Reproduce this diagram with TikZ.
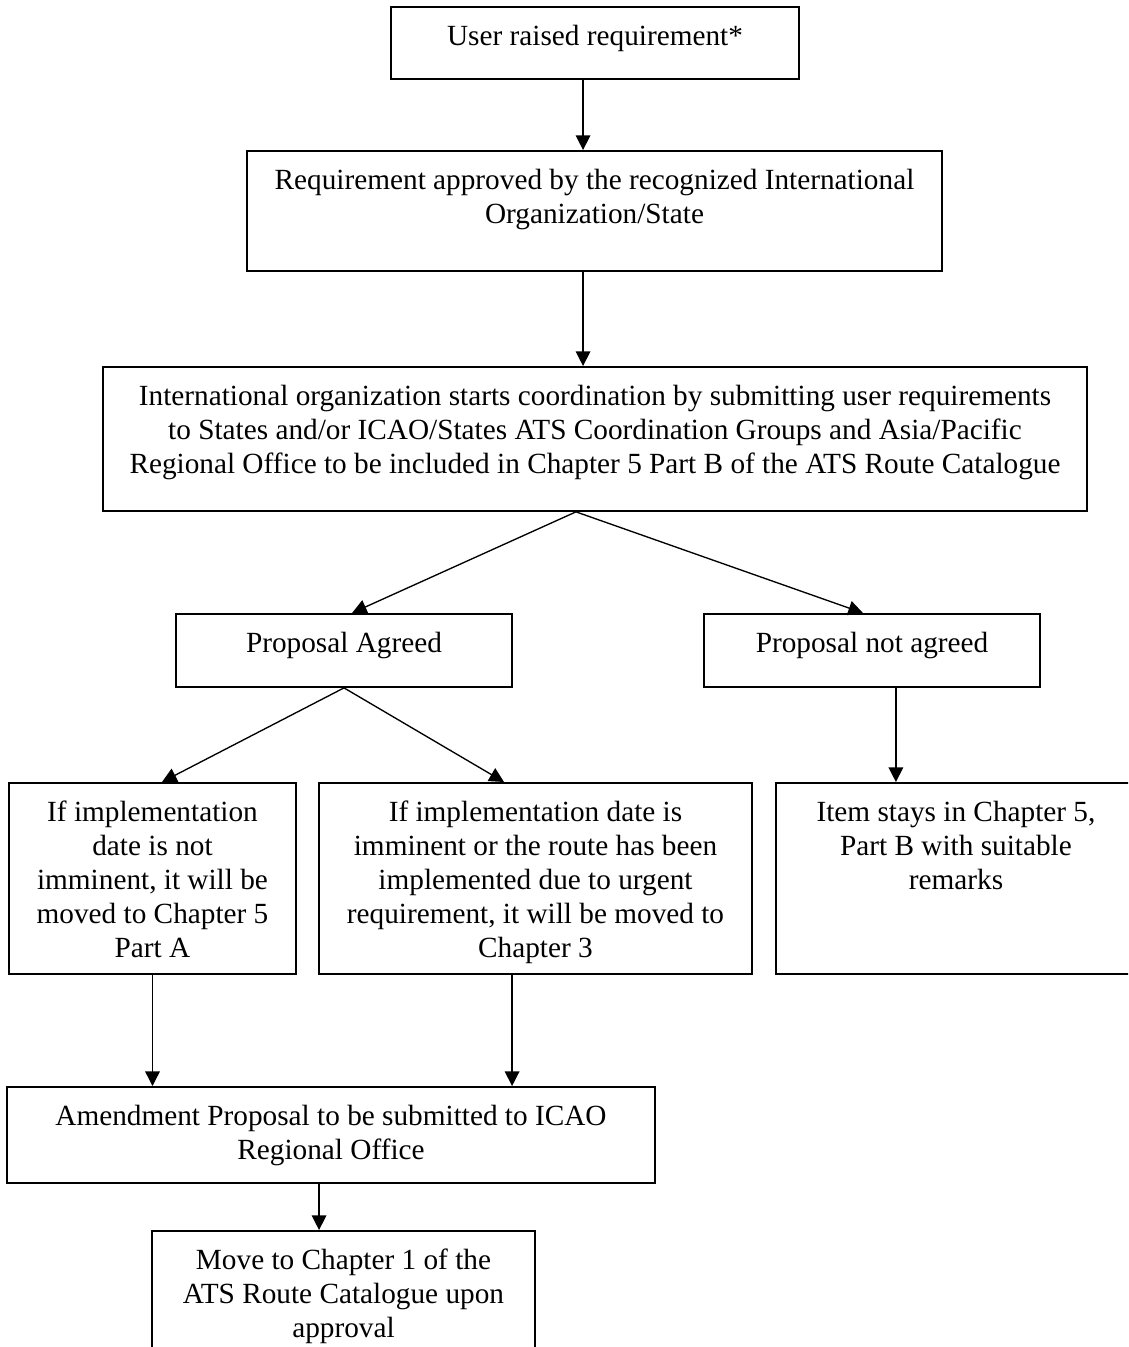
\documentclass[tikz,border=0pt]{standalone}
\usepackage{fontspec}
\setmainfont{Liberation Serif}
\usepackage{tikz}
\usetikzlibrary{arrows.meta, positioning}
\tikzstyle{flowbox} = [rectangle, draw, line width=0.8pt, inner sep=0pt, align=center, anchor=north, text height=15.8pt, font=\fontsize{12pt}{13.9pt}\selectfont, execute at begin node={\spaceskip=0.25em\relax}]
\tikzstyle{arrow} = [line width=0.55pt, -{Triangle[length=6pt, width=6pt]}]

\begin{document}
\begin{tikzpicture}[x=0.41pt, y=-0.41pt]
    \useasboundingbox (0, 0) rectangle (1128, 1347);
    \clip (0, 0) rectangle (1128, 1347);

    % Boxes
    \node[flowbox, text width=167.3pt, text depth=13.7pt] (raised) at (595, 6) {User raised requirement*};
    \node[flowbox, text width=285pt, text depth=33.4pt] (approved) at (594.5, 150) {Requirement approved by the recognized International\\Organization/State};
    \node[flowbox, text width=403.4pt, text depth=43.2pt] (coord) at (595, 366) {International organization starts coordination by submitting user requirements\\to States and/or ICAO/States ATS Coordination Groups and Asia/Pacific\\Regional Office to be included in Chapter 5 Part B of the ATS Route Catalogue};
    \node[flowbox, text width=137.8pt, text depth=14.1pt] (agreed) at (344, 613) {Proposal Agreed};
    \node[flowbox, text width=137.8pt, text depth=14.1pt] (notagreed) at (872, 613) {Proposal not agreed};
    \node[flowbox, text width=117.7pt, text depth=62.5pt] (partA) at (152.5, 782) {If implementation\\date is not\\imminent, it will be\\moved to Chapter 5\\Part A};
    \node[flowbox, text width=177.5pt, text depth=62.5pt] (chapthree) at (535.5, 782) {If implementation date is\\imminent or the route has been\\implemented due to urgent\\requirement, it will be moved to\\Chapter 3};
    \node[flowbox, text width=147.6pt, text depth=62.5pt] (stays) at (956, 782) {Item stays in Chapter 5,\\Part B with suitable\\remarks};
    \node[flowbox, text width=265.7pt, text depth=23.6pt] (amend) at (331, 1086) {Amendment Proposal to be submitted to ICAO\\Regional Office};
    \node[flowbox, text width=157pt, text depth=50pt] (chapone) at (343.5, 1230) {Move to Chapter 1 of the\\ATS Route Catalogue upon\\approval};

    % Arrows
    \draw[arrow] ([xshift=-4.9pt]raised.south) -- ([xshift=-4.9pt]raised.south |- approved.north);
    \draw[arrow] ([xshift=-4.7pt]approved.south) -- ([xshift=-4.7pt]approved.south |- coord.north);
    \draw[arrow] ([xshift=-7.8pt]coord.south) -- ([xshift=3.3pt]agreed.north);
    \draw[arrow] ([xshift=-7.8pt]coord.south) -- ([xshift=-3.7pt]notagreed.north);
    \draw[arrow] (agreed.south) -- ([xshift=3.9pt]partA.north);
    \draw[arrow] (agreed.south) -- ([xshift=-12.9pt]chapthree.north);
    \draw[arrow] ([xshift=9.8pt]notagreed.south) -- ([xshift=9.8pt]notagreed.south |- stays.north);
    \draw[arrow] (partA.south) -- (partA.south |- amend.north);
    \draw[arrow] ([xshift=-9.6pt]chapthree.south) -- ([xshift=-9.6pt]chapthree.south |- amend.north);
    \draw[arrow] ([xshift=-4.9pt]amend.south) -- ([xshift=-4.9pt]amend.south |- chapone.north);
\end{tikzpicture}
\end{document}
